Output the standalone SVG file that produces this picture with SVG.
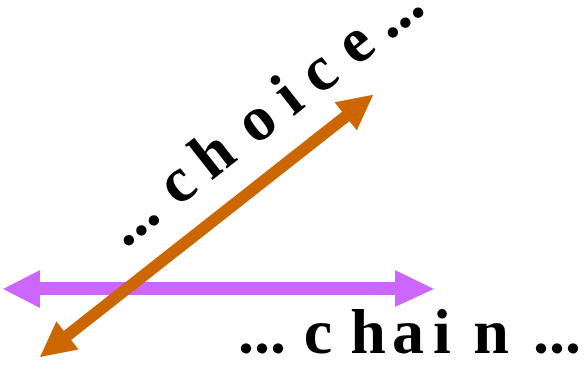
<svg xmlns="http://www.w3.org/2000/svg" width="586" height="366" viewBox="0 0 586 366">
<style>
.lbl{font-family:"Liberation Serif","Times New Roman",serif;font-weight:bold;font-size:64px;fill:#000;text-anchor:middle}
</style>
<rect width="586" height="366" fill="#fff"/>
<g id="connectors">
<polygon id="chain-arrow" fill="#CC66FF" points="3,289 40,270 40,282 395,282 395,270 434,289 395,307 395,295 40,295 40,308"/>
<polygon id="choice-arrow" fill="#CC6600" transform="translate(40,357) rotate(-38.2)" points="0,0 35,-18 35,-6 389,-6 389,-18 424,0 389,18 389,6 35,6 35,18"/>
</g>
<g id="choice">
<text class="lbl" transform="translate(126,248) rotate(-38.2)"><tspan x="23">...</tspan><tspan x="80">c</tspan><tspan x="126">h</tspan><tspan x="181">o</tspan><tspan x="221">i</tspan><tspan x="260">c</tspan><tspan x="307">e</tspan><tspan x="359">...</tspan></text>
</g>
<g id="chain">
<text class="lbl" y="353"><tspan x="262">...</tspan><tspan x="318">c</tspan><tspan x="368">h</tspan><tspan x="408">a</tspan><tspan x="442">i</tspan><tspan x="491">n</tspan><tspan x="557">...</tspan></text>
</g>
</svg>
